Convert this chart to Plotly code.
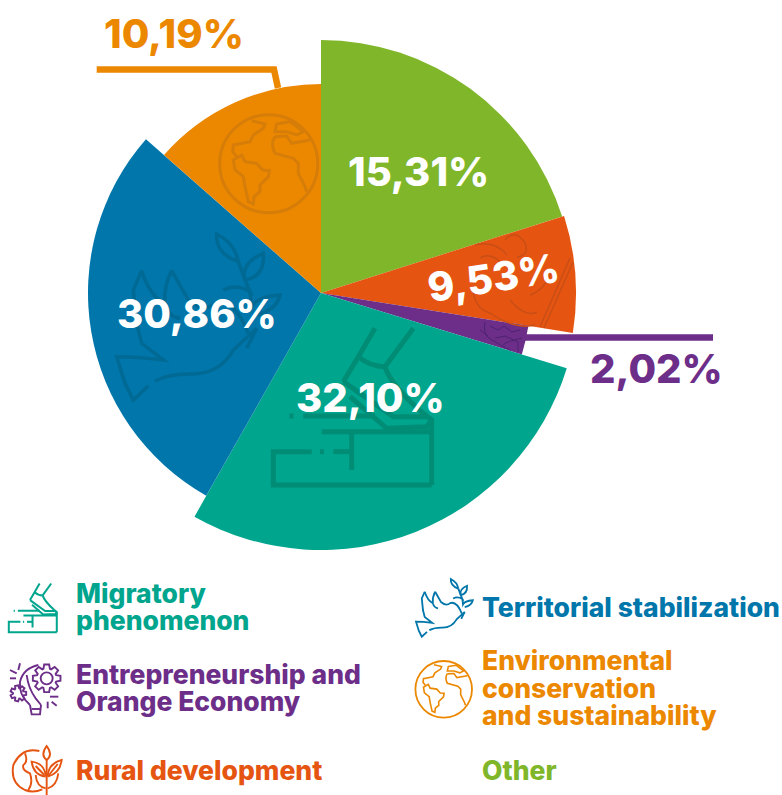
import re
import numpy as np
import plotly.graph_objects as go

# ---- data ----
categories = ["Other", "Rural development", "Entrepreneurship and Orange Economy",
              "Migratory phenomenon", "Territorial stabilization",
              "Environmental conservation and sustainability"]
percent_labels = ["15,31%", "9,53%", "2,02%", "32,10%", "30,86%", "10,19%"]
sector_spans = [72.4, 26.6, 8.0, 102.5, 101.8, 48.7]   # drawn angular size, degrees
sector_radii = [253, 255, 210, 257, 233, 209]           # drawn radius
colors = ["#7FB62A", "#E55511", "#6C2E88", "#00A58D", "#0076AA", "#EC8800"]

label_pos = [(418, 171), (493, 277), (656, 368), (370, 397), (197, 313), (174, 33)]
label_col = ["white", "white", "#6C2E88", "white", "white", "#EC8800"]
label_tilt = [0, -9, 0, 0, 0, 0]
legend_lines = [
    ("Migratory", 74, 593, 3), ("phenomenon", 74, 620, 3),
    ("Entrepreneurship and", 74, 674, 2), ("Orange Economy", 74, 701, 2),
    ("Rural development", 74, 770, 1),
    ("Territorial stabilization", 480, 607, 4),
    ("Environmental", 480, 660, 5), ("conservation", 480, 688, 5),
    ("and sustainability", 480, 715, 5),
    ("Other", 480, 770, 0),
]

FONT = "Inter"
W, H = 782, 795
CX, CY, RMAX = 321, 293, 260

edges = np.cumsum([0] + sector_spans)
mids = (edges[:-1] + edges[1:]) / 2

fig = go.Figure()
fig.add_trace(go.Barpolar(r=sector_radii, theta=mids, width=sector_spans,
                          marker=dict(color=colors, line=dict(width=0)),
                          hoverinfo="skip", subplot="polar"))
fig.add_trace(go.Scatter(x=[0], y=[0], mode="markers", marker=dict(opacity=0),
                         hoverinfo="skip", xaxis="x", yaxis="y"))

shapes = []


def tf(path, ox, oy, sx, sy, x0, y0):
    out, coord = [], 0
    for tok in re.findall(r"[A-Za-z]|-?\d+\.?\d*", path):
        if tok.isalpha():
            out.append(tok)
            coord = 0
        else:
            v = float(tok)
            v = x0 + (v - ox) * sx if coord % 2 == 0 else y0 + (v - oy) * sy
            out.append(f"{v:.2f}")
            coord += 1
    return " ".join(out)


def draw(paths, mapping, color, width):
    for p in paths:
        shapes.append(dict(type="path", path=tf(p, *mapping), xref="x", yref="y",
                           line=dict(color=color, width=width), fillcolor="rgba(0,0,0,0)"))


def circle(cx, cy, r, color, width):
    shapes.append(dict(type="circle", xref="x", yref="y", x0=cx - r, x1=cx + r,
                       y0=cy - r, y1=cy + r, line=dict(color=color, width=width)))


def gear(cx, cy, r1, r2, n):
    pts = []
    step = 2 * np.pi / n
    for i in range(n):
        a = i * step
        for da, r in ((-.3, r1), (-.16, r2), (.16, r2), (.3, r1)):
            pts.append((cx + r * np.cos(a + da * step * 1.4), cy + r * np.sin(a + da * step * 1.4)))
    return "M" + " L".join(f"{x:.1f} {y:.1f}" for x, y in pts) + " Z"


# icons
shoe = ["M375 385 L325 470 L280 545", "M490 385 L405 500", "M325 470 Q360 500 405 500",
        "M405 500 Q425 560 520 640 L545 660 L545 855", "M280 545 L430 650 L530 650",
        "M160 648 L375 648", "M118 648 L130 648", "M300 590 L410 685 L530 680 L545 660",
        "M215 695 L545 695", "M305 695 L305 810", "M185 755 L70 755 L70 855 L545 855",
        "M210 755 L222 755", "M250 755 L305 755"]
draw(shoe, (0, 0, 1 / 3, 1 / 3, 250, 200), "#008C75", 5)
draw(shoe, (65, 380, .101, .1035, 8.3, 583), colors[3], 2)

globe = ["M515 362 L555 372 L550 385 L520 405 L510 425 L460 435 L458 455 L470 470",
         "M460 480 L485 465 L495 485 L530 490 L548 510 L568 512 L565 530 L540 555 L540 575 L522 590 L520 612 L505 605 L495 560 L490 530 L465 510 Z",
         "M590 372 L630 365 L670 395 L650 405 L620 395 L585 395 Z",
         "M585 410 L620 408 L635 430 L690 420", "M585 410 Q570 430 585 460 L640 475 L655 490 L655 520 L675 560 L680 575"]
draw(globe, (0, 0, 1 / 3, 1 / 3, 80, 0), "#D67D09", 3)
circle(268.7, 163.7, 49, "#D67D09", 3)
draw(globe, (566, 491, .191, .191, 443.7, 689.3), colors[5], 1.6)
circle(443.7, 689.3, 28.3, colors[5], 1.8)

dove = ["M125 152 L100 210 L110 310 L125 370 L190 420 Q110 410 50 410 L75 490 L100 540 L145 497",
        "M125 152 Q150 230 195 250", "M215 152 Q190 200 195 250 Q205 290 240 295",
        "M215 152 L265 240 Q310 280 345 250 Q400 230 445 340",
        "M165 483 Q210 460 280 462 Q360 460 400 390 L470 325 L440 385",
        "M415 125 Q405 70 350 42 Q345 100 415 125", "M435 180 Q420 130 490 100 Q495 170 435 180",
        "M370 210 Q410 190 450 215 L435 180 L415 125", "M450 215 L455 260 Q470 230 540 225 Q530 270 470 285"]
draw(dove, (0, 0, 1 / 3, 1 / 3, 100, 220), "#006A95", 3.5)
draw(dove, (50, 42, .116, .116, 416, 579), colors[4], 1.8)

bulb = ["M75 150 Q40 120 45 80 Q55 40 100 30", "M75 150 L80 178 L105 178 L108 150", "M80 162 L105 162",
        "M65 60 Q70 100 92 130 L108 150", "M45 25 L40 45", "M15 45 L35 55", "M15 70 L33 70",
        "M135 125 L160 125", "M128 140 L128 160", "M140 140 L155 152",
        gear(125, 70, 30, 42, 8), gear(40, 115, 16, 24, 7)]
draw(bulb, (0, 0, 1 / 3, 1 / 3, 5, 655), colors[2], 1.9)
circle(5 + 125 / 3, 655 + 70 / 3, 6, colors[2], 1.9)
# piece of the same icon visible inside the narrow purple sector
draw(["M485 322 Q482 335 492 340 Q500 345 510 350", "M490 326 L498 330 L504 326 L512 332 L520 330",
      "M503 345 Q512 338 518 342 L518 352", "M480 330 L488 336", "M495 338 L505 336 L514 340 L522 338"],
     (0, 0, 1, 1, 0, 0), "#4E2272", 1)

plant = ["M125 165 L125 60", "M125 60 Q105 45 125 18 Q145 45 125 60", "M122 110 Q85 105 80 65 Q120 70 122 110",
         "M128 110 Q165 100 170 60 Q130 70 128 110", "M103 33 Q50 20 25 75 Q15 130 60 150 Q85 160 112 148",
         "M60 40 Q70 65 55 75 Q50 90 75 100 Q85 130 70 150",
         "M122 145 Q95 140 92 105", "M128 145 Q155 138 160 100", "M92 78 L118 105", "M158 72 L132 105"]
draw(plant, (0, 0, 1 / 3, 1 / 3, 5, 740), colors[1], 1.9)
# pale plant outline inside the red sector
draw(["M570 258 L540 327", "M573 262 L544 328", "M473 286 Q473 308 490 313 Q515 330 535 325",
      "M510 300 Q525 318 537 312", "M475 245 Q495 240 507 255", "M505 240 Q515 228 525 243 Q530 255 517 257",
      "M480 258 Q490 252 500 262", "M530 295 Q545 290 552 270"], (0, 0, 1, 1, 0, 0), "#C94E16", 1.5)

# leader lines
shapes.append(dict(type="path", path="M96.7 69.5 L274 69.5 L278 88", xref="x", yref="y",
                   line=dict(color=colors[5], width=6.5), fillcolor="rgba(0,0,0,0)"))
shapes.append(dict(type="line", x0=525, x1=713, y0=337.5, y1=337.5, xref="x", yref="y",
                   line=dict(color=colors[2], width=6.5)))

annotations = []
for txt, (x, y), c, tilt in zip(percent_labels, label_pos, label_col, label_tilt):
    annotations.append(dict(text=txt, x=x, y=y, xref="x", yref="y", showarrow=False,
                            xanchor="center", yanchor="middle", textangle=tilt,
                            font=dict(family=FONT, size=40, color=c, weight=800)))
for txt, x, y, ci in legend_lines:
    annotations.append(dict(text=txt, x=x, y=y, xref="x", yref="y", showarrow=False,
                            xanchor="left", yanchor="middle",
                            font=dict(family=FONT, size=26.5, color=colors[ci], weight=800)))

fig.update_layout(
    width=W, height=H, margin=dict(l=0, r=0, t=0, b=0), showlegend=False,
    paper_bgcolor="white", plot_bgcolor="rgba(0,0,0,0)", dragmode=False,
    polar=dict(domain=dict(x=[(CX - RMAX) / W, (CX + RMAX) / W],
                           y=[1 - (CY + RMAX) / H, 1 - (CY - RMAX) / H]),
               bgcolor="rgba(0,0,0,0)",
               radialaxis=dict(visible=False, range=[0, RMAX]),
               angularaxis=dict(visible=False, rotation=90, direction="clockwise")),
    xaxis=dict(range=[0, W], domain=[0, 1], visible=False, fixedrange=True),
    yaxis=dict(range=[H, 0], domain=[0, 1], visible=False, fixedrange=True),
    shapes=shapes, annotations=annotations,
)
fig.write_html("out.html", config=dict(displayModeBar=False),
               post_script="document.body.style.margin='0';")
